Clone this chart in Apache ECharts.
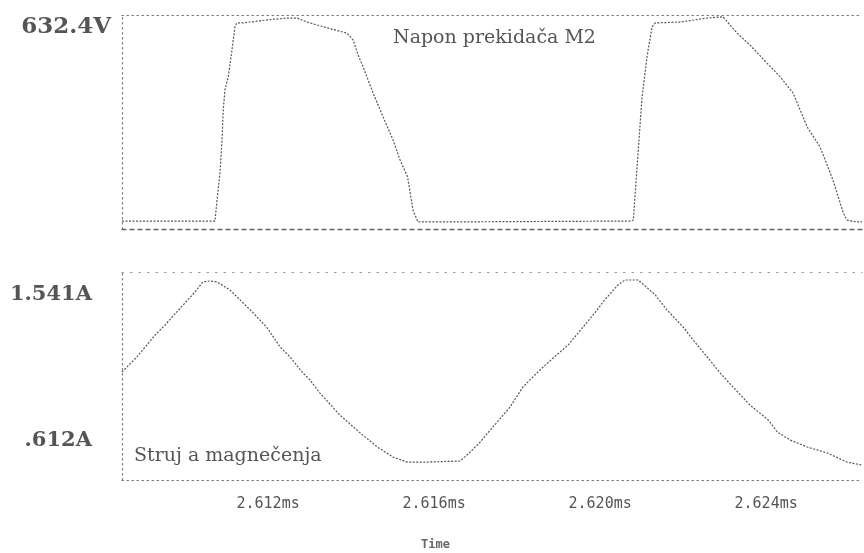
<!DOCTYPE html>
<html><head><meta charset="utf-8">
<script src="https://cdn.jsdelivr.net/npm/echarts@6/dist/echarts.min.js"></script>
<style>html,body{margin:0;padding:0;background:#fff}#c{width:864px;height:553px}</style>
</head><body><div id="c"></div>
<script>
// Time ticks (ms)
const timeTicks = [2.612, 2.616, 2.620, 2.624];
// Upper trace: switch voltage M2 (V)
const voltTime = [2.60848, 2.61072, 2.61077, 2.61084, 2.61089, 2.61092, 2.61096, 2.61104, 2.61113, 2.61120, 2.61125, 2.61140, 2.61198, 2.61246, 2.61270, 2.61294, 2.61342, 2.61390, 2.61405, 2.61417, 2.61429, 2.61453, 2.61477, 2.61501, 2.61518, 2.61536, 2.61549, 2.61561, 2.61622, 2.62072, 2.62080, 2.62101, 2.62113, 2.62125, 2.62133, 2.62193, 2.62258, 2.62296, 2.62330, 2.62361, 2.62402, 2.62434, 2.62465, 2.62499, 2.62530, 2.62561, 2.62586, 2.62595, 2.62619, 2.62631];
const voltValues = [0, 0, 69, 157, 265, 363, 428, 471, 559, 634, 647, 647, 657, 663, 663, 650, 631, 614, 591, 542, 503, 418, 340, 265, 199, 145, 36, -3, -3, 0, 3, 405, 536, 634, 647, 650, 663, 667, 614, 575, 516, 471, 418, 307, 242, 134, 26, 3, -3, -3];
// Lower trace: magnetizing current (A)
const currTime = [2.60848, 2.60884, 2.60928, 2.60952, 2.60969, 2.61024, 2.61043, 2.61060, 2.61077, 2.61108, 2.61140, 2.61164, 2.61198, 2.61229, 2.61253, 2.61282, 2.61301, 2.61325, 2.61373, 2.61422, 2.61463, 2.61501, 2.61535, 2.61583, 2.61663, 2.61687, 2.61711, 2.61752, 2.61783, 2.61814, 2.61855, 2.61887, 2.61923, 2.61959, 2.61993, 2.62007, 2.62043, 2.62060, 2.62092, 2.62133, 2.62161, 2.62200, 2.62224, 2.62260, 2.62289, 2.62320, 2.62361, 2.62405, 2.62427, 2.62458, 2.62499, 2.62547, 2.62595, 2.62631];
const currValues = [1.051, 1.147, 1.287, 1.350, 1.401, 1.560, 1.624, 1.630, 1.624, 1.573, 1.490, 1.427, 1.331, 1.210, 1.147, 1.051, 1.000, 0.917, 0.777, 0.663, 0.574, 0.510, 0.478, 0.478, 0.485, 0.542, 0.606, 0.733, 0.828, 0.956, 1.064, 1.140, 1.223, 1.337, 1.446, 1.497, 1.605, 1.636, 1.636, 1.541, 1.446, 1.337, 1.255, 1.140, 1.045, 0.956, 0.841, 0.746, 0.669, 0.618, 0.574, 0.536, 0.478, 0.459];
// Axis label values
const voltLabels = [632.4];
const currLabels = [1.541, 0.612];
const topTitle = 'Napon prekidača M2';
const bottomTitle = 'Struj a magnečenja';
const xName = 'Time';

const xMin = 2.60848, xMax = 2.62631;
const chart = echarts.init(document.getElementById('c'), null, {renderer: 'canvas'});
const dotted = {color: '#777', width: 1.2, type: [1.5, 3.5]};
const dashed = {color: '#666', width: 1.3, type: [4, 4]};
const trace = {color: '#555', width: 1.2, type: [2, 1.5]};
const hiddenX = {show: false};

chart.setOption({
  animation: false,
  backgroundColor: '#fff',
  grid: [
    {left: 122, top: 15, width: 740, height: 214},
    {left: 122, top: 272, width: 740, height: 208}
  ],
  xAxis: [
    {type: 'value', gridIndex: 0, min: xMin, max: xMax, position: 'bottom',
     axisLine: {show: true, onZero: false, lineStyle: dashed}, axisTick: hiddenX, axisLabel: hiddenX, splitLine: hiddenX},
    {type: 'value', gridIndex: 0, min: xMin, max: xMax, position: 'top',
     axisLine: {show: true, onZero: false, lineStyle: dotted}, axisTick: hiddenX, axisLabel: hiddenX, splitLine: hiddenX},
    {type: 'value', gridIndex: 1, min: xMin, max: xMax, position: 'bottom',
     axisLine: {show: true, onZero: false, lineStyle: dotted}, axisTick: hiddenX, splitLine: hiddenX,
     axisLabel: {show: true, customValues: timeTicks, margin: 17, color: '#555',
       fontFamily: 'DejaVu Sans Mono', fontSize: 15,
       formatter: v => v.toFixed(3) + 'ms'}},
    {type: 'value', gridIndex: 1, min: xMin, max: xMax, position: 'top',
     axisLine: {show: true, onZero: false, lineStyle: {color: '#999', width: 1.2, type: [1.5, 7]}}, axisTick: hiddenX, axisLabel: hiddenX, splitLine: hiddenX}
  ],
  yAxis: [
    {type: 'value', gridIndex: 0, min: -26, max: 673,
     axisLine: {show: true, onZero: false, lineStyle: dotted}, axisTick: hiddenX, splitLine: hiddenX,
     axisLabel: {show: true, customValues: voltLabels, margin: 11, color: '#555',
       fontFamily: 'DejaVu Serif', fontWeight: 'bold', fontSize: 23,
       formatter: v => v + 'V'}},
    {type: 'value', gridIndex: 1, min: 0.364, max: 1.687,
     axisLine: {show: true, onZero: false, lineStyle: dotted}, axisTick: hiddenX, splitLine: hiddenX,
     axisLabel: {show: true, customValues: currLabels, margin: 30, color: '#555',
       fontFamily: 'DejaVu Serif', fontWeight: 'bold', fontSize: 21,
       formatter: v => (v < 1 ? String(v).replace(/^0/, '') : String(v)) + 'A'}}
  ],
  series: [
    {type: 'line', xAxisIndex: 0, yAxisIndex: 0, showSymbol: false, lineStyle: trace,
     data: voltTime.map((t, i) => [t, voltValues[i]])},
    {type: 'line', xAxisIndex: 2, yAxisIndex: 1, showSymbol: false, lineStyle: trace,
     data: currTime.map((t, i) => [t, currValues[i]])}
  ],
  graphic: [
    {type: 'text', left: 393, top: 29, style: {text: topTitle, fill: '#555', font: '19px "DejaVu Serif"'}},
    {type: 'text', left: 134, top: 447, style: {text: bottomTitle, fill: '#555', font: '19px "DejaVu Serif"'}},
    {type: 'text', left: 421, top: 539, style: {text: xName, fill: '#666', font: 'bold 12px "DejaVu Sans Mono"'}}
  ]
});
</script>
</body></html>
